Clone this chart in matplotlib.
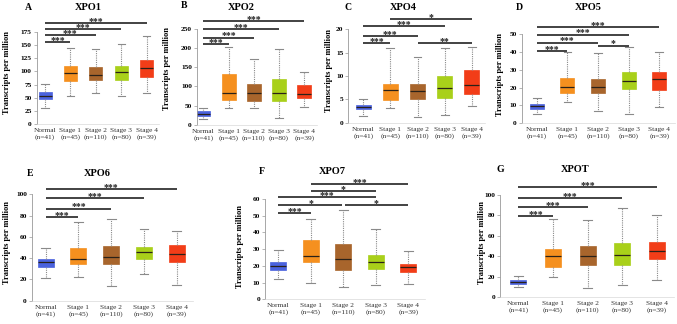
import matplotlib
matplotlib.use("Agg")
import matplotlib.pyplot as plt

plt.rcParams['font.family'] = ['Liberation Serif', 'DejaVu Serif']

# ---------------- data ----------------
categories = ["Normal", "Stage 1", "Stage 2", "Stage 3", "Stage 4"]
counts = [41, 45, 110, 80, 39]
box_colors = ["#4a62de", "#f5901f", "#a8652c", "#a9d01a", "#f23d18"]

# XPO1 (A)
xpo1_low = [30, 54, 58.5, 54, 58.5]
xpo1_q1 = [47.7, 82, 83, 84, 88.5]
xpo1_med = [53.5, 97, 94, 98, 106]
xpo1_q3 = [60.5, 111, 107.6, 111, 121]
xpo1_high = [75.7, 144.5, 143, 151.5, 168]
xpo1_sig = [(0, 1, 156, "***"), (0, 2, 169, "***"), (0, 3, 181, "***"), (0, 4, 192, "***")]

# XPO2 (B)
xpo2_low = [14.8, 42.5, 42.5, 17.4, 46]
xpo2_q1 = [23.4, 65, 61.6, 62.5, 68.6]
xpo2_med = [28.6, 81.6, 81.6, 81.6, 80]
xpo2_q3 = [35, 133, 107, 119, 103]
xpo2_high = [42.5, 202, 172, 196, 136]
xpo2_sig = [(0, 1, 209, "***"), (0, 2, 227, "***"), (0, 3, 250, "***"), (0, 4, 269, "***")]

# XPO4 (C)
xpo4_low = [1.36, 3.14, 1.29, 1.57, 3.57]
xpo4_q1 = [2.86, 4.8, 5.14, 5.36, 6.07]
xpo4_med = [3.36, 6.93, 6.86, 7.36, 8.0]
xpo4_q3 = [3.7, 8.36, 8.36, 9.93, 11.2]
xpo4_high = [5.0, 16.1, 14.1, 16.1, 16.3]
xpo4_sig = [(0, 1, 17.0, "***"), (2, 4, 17.1, "**"), (0, 2, 18.6, "***"),
            (0, 3, 20.6, "***"), (1, 4, 22.1, "*")]

# XPO5 (D)
xpo5_low = [5.1, 11.7, 7.0, 4.9, 9.2]
xpo5_q1 = [8.1, 16.9, 16.7, 19.2, 18.8]
xpo5_med = [9.4, 20.1, 20.1, 23.5, 24.6]
xpo5_q3 = [10.5, 25.6, 24.8, 29.0, 28.8]
xpo5_high = [13.9, 39.8, 39.3, 42.7, 40.2]
xpo5_sig = [(0, 1, 40.6, "***"), (2, 3, 43.6, "*"), (0, 2, 45.3, "***"),
            (0, 3, 49.8, "***"), (0, 4, 54.1, "***")]

# XPO6 (E)
xpo6_low = [21.6, 21.9, 14.1, 24.8, 14.7]
xpo6_q1 = [31.7, 34.2, 34.2, 38.9, 36.1]
xpo6_med = [36.7, 38.9, 40.8, 45.5, 43.6]
xpo6_q3 = [39.2, 49.8, 51.1, 50.2, 52.7]
xpo6_high = [49.8, 74, 77.1, 67.4, 65.8]
xpo6_sig = [(0, 1, 78.4, "***"), (0, 2, 86.5, "***"), (0, 3, 96.2, "***"), (0, 4, 104.7, "***")]

# XPO7 (F)
xpo7_low = [12.4, 9.6, 7.2, 8.6, 9.2]
xpo7_q1 = [17.3, 22.1, 17.5, 18.3, 16.5]
xpo7_med = [19.9, 26.1, 24.3, 22.3, 19.5]
xpo7_q3 = [22.5, 35.7, 33.3, 26.5, 21.1]
xpo7_high = [29.7, 48.2, 53.6, 41.9, 28.7]
xpo7_sig = [(0, 1, 51.4, "***"), (0, 2, 56.4, "*"), (2, 4, 56.4, "*"),
            (0, 3, 61.2, "***"), (1, 3, 64.8, "*"), (1, 4, 68.8, "***")]

# XPOT (G)
xpot_low = [10.1, 19.5, 9.1, 11.7, 16.9]
xpot_q1 = [13.0, 29.3, 31.3, 31.9, 37.5]
xpot_med = [15.0, 40.0, 40.0, 41.4, 45.0]
xpot_q3 = [16.6, 46.9, 50.5, 52.8, 54.4]
xpot_high = [20.5, 76.5, 75.2, 87.0, 80.8]
xpot_sig = [(0, 1, 79.2, "***"), (0, 2, 88.3, "***"), (0, 3, 96.7, "***"), (0, 4, 107.5, "***")]

# ---------------- layout ----------------
W, H = 677, 324
fig = plt.figure(figsize=(W / 100, H / 100), dpi=100)

# letter, title, data, layout: (axis_left, box0, spacing, y0, ytop, ymax, step, boxw_px)
# title/letter/ylabel positions in px
panels = [
    ("A", "XPO1", (xpo1_low, xpo1_q1, xpo1_med, xpo1_q3, xpo1_high), xpo1_sig,
     (36.5, 45, 25.4, 124, 32, 175, 25, 13), (28, 7), (88, 7), (7, 72)),
    ("B", "XPO2", (xpo2_low, xpo2_q1, xpo2_med, xpo2_q3, xpo2_high), xpo2_sig,
     (196.7, 203.3, 25.25, 124.7, 28.7, 250, 50, 14), (184, 6), (241, 7), (167, 68)),
    ("C", "XPO4", (xpo4_low, xpo4_q1, xpo4_med, xpo4_q3, xpo4_high), xpo4_sig,
     (348.3, 363.3, 27.1, 122.7, 29.3, 20, 5, 14.5), (348, 7), (403, 7), (329, 71)),
    ("D", "XPO5", (xpo5_low, xpo5_q1, xpo5_med, xpo5_q3, xpo5_high), xpo5_sig,
     (521.7, 536.7, 30.65, 123, 34.3, 50, 10, 14), (519, 7), (588, 8), (500, 75)),
    ("E", "XPO6", (xpo6_low, xpo6_q1, xpo6_med, xpo6_q3, xpo6_high), xpo6_sig,
     (31.7, 45.7, 32.75, 300.7, 194.3, 100, 20, 16), (30, 173), (97, 173), (7, 242)),
    ("F", "XPO7", (xpo7_low, xpo7_q1, xpo7_med, xpo7_q3, xpo7_high), xpo7_sig,
     (265, 278.3, 32.5, 299.3, 199, 60, 10, 16), (262, 172), (332, 172), (240, 246)),
    ("G", "XPOT", (xpot_low, xpot_q1, xpot_med, xpot_q3, xpot_high), xpot_sig,
     (500, 518.3, 34.6, 297.3, 195, 100, 20, 16), (500, 170), (575, 170), (482, 243)),
]

xlabels = [f"{c}\n(n={n})" for c, n in zip(categories, counts)]

for letter, title, stats, sigs, lay, lpos, tpos, ylpos in panels:
    left, box0, s, y0, ytop, ymax, step, bw = lay
    L = (box0 - left) / s
    R = 0.5
    right = box0 + (4 + R) * s
    ax = fig.add_axes([left / W, 1 - y0 / H, (right - left) / W, (y0 - ytop) / H])
    ax.set_xlim(-L, 4 + R)
    ax.set_ylim(0, ymax)

    low, q1, med, q3, high = stats
    bstats = []
    for i in range(5):
        bstats.append(dict(whislo=low[i], q1=q1[i], med=med[i], q3=q3[i],
                           whishi=high[i], fliers=[]))
    width = bw / s
    bp = ax.bxp(bstats, positions=list(range(5)), widths=width, patch_artist=True,
                showfliers=False, manage_ticks=False,
                boxprops=dict(linewidth=0.5),
                whiskerprops=dict(color="#8a8a8a", linestyle=(0, (1, 1)), linewidth=0.8),
                capprops=dict(color="#8a8a8a", linewidth=0.8),
                medianprops=dict(color="#2a2118", linewidth=0.9),
                capwidths=width * 0.55)
    for patch, col in zip(bp["boxes"], box_colors):
        patch.set_facecolor(col)
        patch.set_edgecolor(col)

    ax.set_xticks(range(5))
    ax.set_xticklabels(xlabels, fontsize=5.3, color="#333333", linespacing=1.25)
    ax.tick_params(axis="x", length=0, pad=3)
    yt = list(range(0, int(ymax) + 1, step))
    ax.set_yticks(yt)
    ax.set_yticklabels([str(v) for v in yt], fontsize=5.3, fontweight="bold")
    ax.tick_params(axis="y", length=2, width=0.5, color="#999999", pad=1.5)

    for sp in ["top", "right"]:
        ax.spines[sp].set_visible(False)
    ax.spines["left"].set_color("#999999")
    ax.spines["left"].set_linewidth(0.6)
    ax.spines["bottom"].set_color("#d9d9d9")
    ax.spines["bottom"].set_linewidth(0.5)

    # significance bars
    for (i, j, yv, lab) in sigs:
        x1, x2 = i, j
        # small gap where bars meet at same height
        for (a, b, yy, _) in sigs:
            if yy == yv and (a, b) != (i, j):
                if b == i:
                    x1 = i + 0.04
                if a == j:
                    x2 = j - 0.04
        ax.plot([x1, x2], [yv, yv], color="#222222", lw=1.2, clip_on=False,
                solid_capstyle="butt")
        ax.annotate(lab, xy=((i + j) / 2, yv), xytext=(0, -0.6),
                    textcoords="offset points", ha="center", va="baseline",
                    fontsize=7, fontweight="bold", color="#222222",
                    annotation_clip=False)

    fig.text(lpos[0] / W, 1 - lpos[1] / H, letter, fontsize=7, fontweight="bold",
             ha="center", va="center")
    fig.text(tpos[0] / W, 1 - tpos[1] / H, title, fontsize=7.5, fontweight="bold",
             ha="center", va="center")
    fig.text(ylpos[0] / W, 1 - ylpos[1] / H, "Transcripts per million", fontsize=6,
             fontweight="bold", rotation=90, ha="center", va="center")

fig.savefig("out.png", dpi=100)
